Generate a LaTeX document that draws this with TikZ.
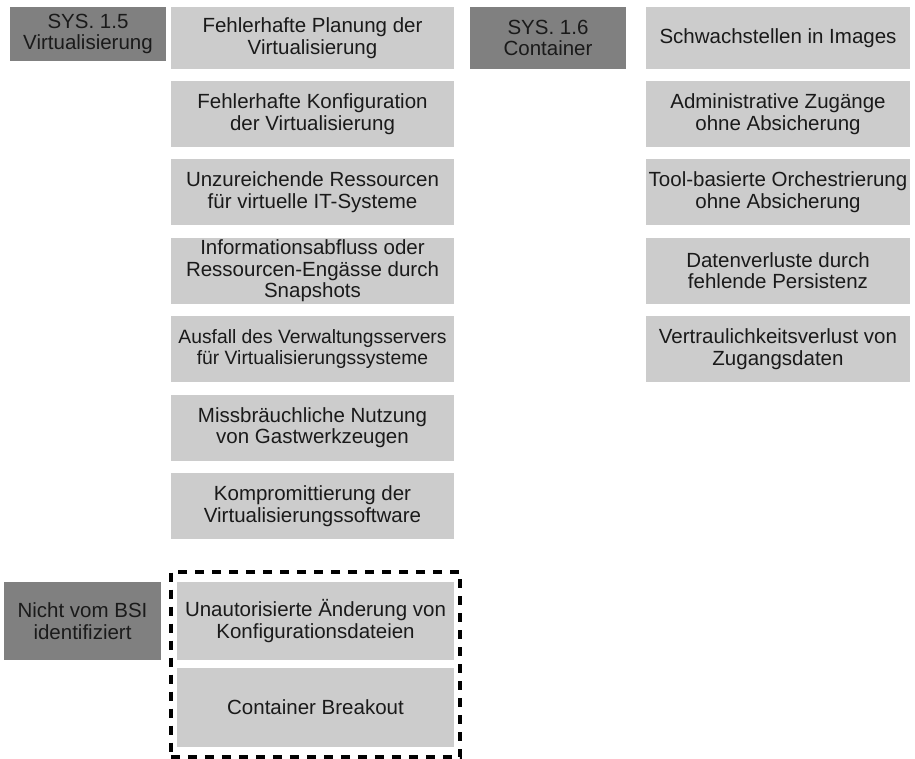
\documentclass[tikz,border=0pt]{standalone}
\usepackage{fontspec}
\setmainfont{Liberation Sans}
\usepackage{xcolor}
\usetikzlibrary{positioning, fit}
\definecolor{threatgray}{HTML}{CCCCCC}
\definecolor{headgray}{HTML}{808080}
\definecolor{textblack}{HTML}{1A1A1A}
\tikzset{
  threatbox/.style={
    rectangle, fill=threatgray, align=center, inner sep=0pt, text=textblack,
    minimum width=283pt, minimum height=66pt,
    font=\fontsize{20.5}{21.7}\selectfont
  },
  headbox/.style={
    rectangle, fill=headgray, align=center, inner sep=0pt, text=textblack,
    minimum width=156pt, minimum height=62pt,
    font=\fontsize{20.5}{21.7}\selectfont
  },
  groupframe/.style={draw=black, line width=3.5pt, dash pattern=on 9pt off 8pt},
}
\begin{document}
\begin{tikzpicture}[x=1pt, y=-1pt]
  \useasboundingbox (0,0) rectangle (915,759);

  % SYS. 1.5 Virtualisierung
  \node[headbox, minimum height=54pt] (sysvirt) at (88,34) {SYS. 1.5\\Virtualisierung};
  \node[threatbox, minimum height=62pt] (virta) at (312.5,38) {Fehlerhafte Planung der\\Virtualisierung};
  \node[threatbox] (virtb) at (312.5,114) {Fehlerhafte Konfiguration\\der Virtualisierung};
  \node[threatbox] (virtc) at (312.5,192.4) {Unzureichende Ressourcen\\f\"ur virtuelle IT-Systeme};
  \node[threatbox] (virtd) at (312.5,270.8) {Informationsabfluss oder\\Ressourcen-Eng\"asse durch\\Snapshots};
  \node[threatbox, font=\fontsize{19.3}{21.5}\selectfont] (virte) at (312.5,349.2) {Ausfall des Verwaltungsservers\\f\"ur Virtualisierungssysteme};
  \node[threatbox] (virtf) at (312.5,427.6) {Missbr\"auchliche Nutzung\\von Gastwerkzeugen};
  \node[threatbox] (virtg) at (312.5,506) {Kompromittierung der\\Virtualisierungssoftware};

  % SYS. 1.6 Container
  \node[headbox] (syscont) at (548,38) {SYS. 1.6\\Container};
  \node[threatbox, minimum width=264pt, minimum height=62pt] (conta) at (778,38) {Schwachstellen in Images};
  \node[threatbox, minimum width=264pt] (contb) at (778,114) {Administrative Zug\"ange\\ohne Absicherung};
  \node[threatbox, minimum width=264pt] (contc) at (778,192.4) {Tool-basierte Orchestrierung\\ohne Absicherung};
  \node[threatbox, minimum width=264pt] (contd) at (778,270.8) {Datenverluste durch\\fehlende Persistenz};
  \node[threatbox, minimum width=264pt] (conte) at (778,349.2) {Vertraulichkeitsverlust von\\Zugangsdaten};

  % Nicht vom BSI identifiziert
  \node[headbox, minimum width=157pt, minimum height=78pt] (nobsi) at (82.5,621) {Nicht vom BSI\\identifiziert};
  \node[threatbox, minimum width=277pt, minimum height=78pt] (configchange) at (315.5,621) {Unautorisierte \"Anderung von\\Konfigurationsdateien};
  \node[threatbox, minimum width=277pt, minimum height=79pt] (breakout) at (315.5,707.5) {Container Breakout};
  \node[groupframe, fit=(configchange)(breakout), inner xsep=6pt, inner ysep=10pt] (extraframe) {};
\end{tikzpicture}
\end{document}
